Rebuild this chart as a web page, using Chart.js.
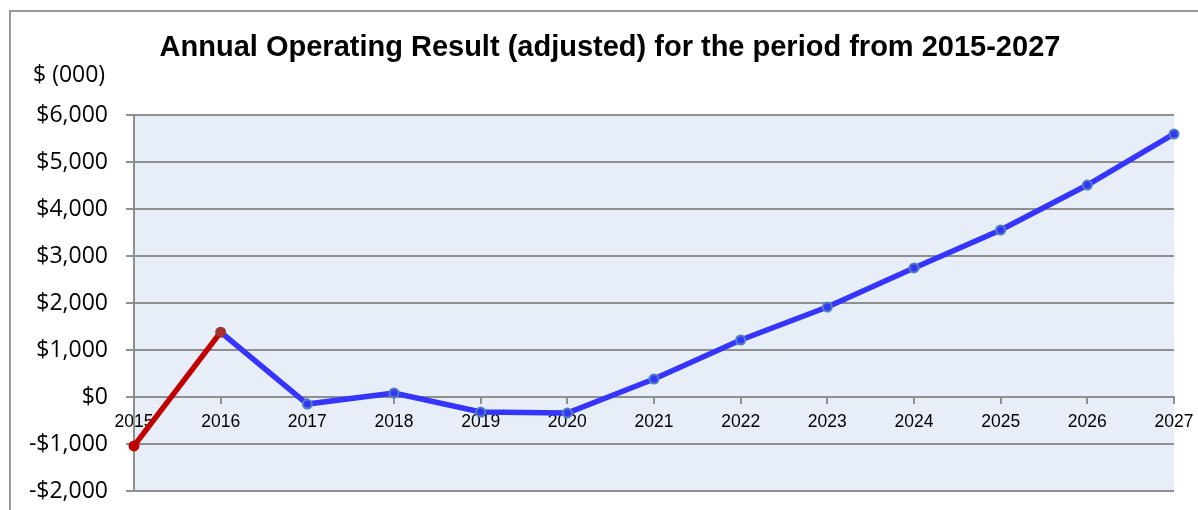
<!DOCTYPE html>
<html>
<head>
<meta charset="utf-8">
<script src="https://cdn.jsdelivr.net/npm/chart.js@4.4.1/dist/chart.umd.min.js"></script>
<style>
  html, body { margin: 0; padding: 0; background: #fff; }
  #wrap { position: relative; width: 1198px; height: 510px; overflow: hidden; }
  #frame { position: absolute; left: 9px; top: 10px; width: 1300px; height: 600px;
           border-top: 2px solid #999; border-left: 2px solid #999; }
  #chart { position: absolute; left: 0; top: 0; }
</style>
</head>
<body>
<div id="wrap">
  <div id="frame"></div>
  <canvas id="chart" width="1198" height="510"></canvas>
</div>
<script>
// Chart data
var years = ['2015', '2016', '2017', '2018', '2019', '2020', '2021',
             '2022', '2023', '2024', '2025', '2026', '2027'];
var results = [-1040, 1380, -150, 85, -320, -340, 383,
               1213, 1915, 2745, 3553, 4510, 5596];
var yTicks = [-2000, -1000, 0, 1000, 2000, 3000, 4000, 5000, 6000];

var titleText = 'Annual Operating Result (adjusted) for the period from 2015-2027';
var unitText = '$ (000)';

var gridGray = '#8f8f8f';
var tickFont = '"Open Sans", "Noto Sans", sans-serif';

function fmtMoney(v) {
    var s = '$' + Math.abs(v).toLocaleString('en-US');
    return v < 0 ? '-' + s : s;
}

// keep the plot box where the layout padding puts it
function noLabelPadding(scale) {
    scale.paddingLeft = 0;
    scale.paddingRight = 0;
    scale.paddingTop = 0;
    scale.paddingBottom = 0;
}

// light blue plot background, title and unit label
var plotDecor = {
    id: 'plotDecor',
    beforeDraw: function(chart) {
        var a = chart.chartArea, c = chart.ctx;
        c.save();
        c.fillStyle = '#e8eef7';
        c.fillRect(a.left, a.top, a.right - a.left, a.bottom - a.top);
        c.restore();
    },
    afterDraw: function(chart) {
        var c = chart.ctx;
        c.save();
        c.fillStyle = '#000';
        c.textBaseline = 'middle';
        c.textAlign = 'center';
        c.font = 'bold 29px "Liberation Sans", Arial, sans-serif';
        c.fillText(titleText, 610, 48);
        c.textAlign = 'left';
        c.font = '23px ' + tickFont;
        c.fillText(unitText, 33, 75);
        c.restore();
    }
};

new Chart(document.getElementById('chart'), {
    type: 'line',
    data: {
        labels: years,
        datasets: [{
            data: results,
            borderWidth: 5.5,
            tension: 0,
            fill: false,
            segment: {
                borderColor: function(ctx) {
                    return ctx.p0DataIndex === 0 ? '#c00000' : '#3535ff';
                }
            },
            borderColor: '#3535ff',
            pointRadius: 4.5,
            pointBorderWidth: 2,
            pointBackgroundColor: function(ctx) {
                if (ctx.dataIndex === 0) return '#c00000';
                if (ctx.dataIndex === 1) return '#a8302e';
                return '#3535ff';
            },
            pointBorderColor: function(ctx) {
                if (ctx.dataIndex === 0) return '#c00000';
                if (ctx.dataIndex === 1) return '#953735';
                return '#4f81bd';
            }
        }]
    },
    options: {
        responsive: false,
        animation: false,
        clip: false,
        layout: { padding: { left: 20, right: 24, top: 115, bottom: 19 } },
        plugins: {
            legend: { display: false },
            tooltip: { enabled: false },
            title: { display: false }
        },
        scales: {
            x: {
                type: 'category',
                offset: false,
                position: { y: 0 },
                afterFit: function(scale) { scale.height = 0; noLabelPadding(scale); },
                grid: {
                    display: true,
                    drawOnChartArea: false,
                    drawTicks: true,
                    tickLength: 6,
                    color: gridGray,
                    lineWidth: 2
                },
                border: { display: true, color: gridGray, width: 2 },
                ticks: {
                    color: '#000',
                    padding: 9,
                    maxRotation: 0,
                    autoSkip: false,
                    font: { family: '"Liberation Sans", Arial, sans-serif', size: 17.5 }
                }
            },
            y: {
                min: -2000,
                max: 6000,
                afterFit: function(scale) { scale.width = 114; noLabelPadding(scale); },
                afterBuildTicks: function(scale) {
                    scale.ticks = yTicks.map(function(v) { return { value: v }; });
                },
                grid: {
                    color: gridGray,
                    lineWidth: 2,
                    tickLength: 8
                },
                border: { display: true, color: gridGray, width: 2 },
                ticks: {
                    color: '#000',
                    padding: 18,
                    font: { family: tickFont, size: 23 },
                    callback: function(v) { return fmtMoney(v); }
                }
            }
        }
    },
    plugins: [plotDecor]
});
</script>
</body>
</html>
